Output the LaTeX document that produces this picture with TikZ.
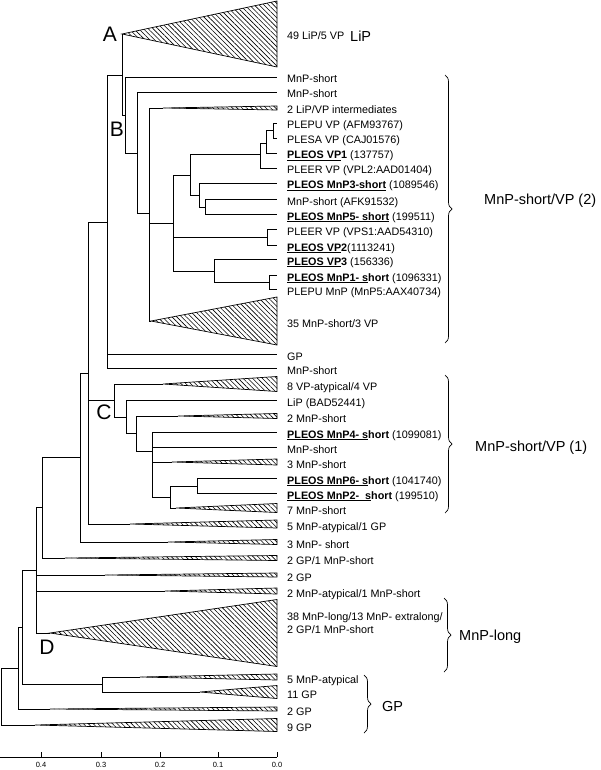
\documentclass[tikz,border=0pt]{standalone}
\usepackage{fontspec}
\setmainfont{Liberation Sans}
\usetikzlibrary{patterns.meta,decorations.pathreplacing}

\tikzset{
  branch/.style={line width=0.9pt},
  clade/.style={line width=0.7pt,pattern={Lines[angle=-45,distance=3.4pt,line width=0.6pt]}},
  lab/.style={anchor=base west,inner sep=0pt,font=\fontsize{10.8}{13}\selectfont},
  grp/.style={anchor=west,inner sep=0pt,font=\fontsize{14.5}{16}\selectfont},
  knot/.style={inner sep=0pt,font=\fontsize{21}{24}\selectfont},
  tick/.style={inner sep=0pt,font=\fontsize{7.5}{9}\selectfont},
  grpbrace/.style={decorate,decoration={brace,amplitude=7pt},line width=0.7pt},
}

% tip of the tree: name, y, text
\newcommand\tipleaf[3]{%
  \coordinate (#1) at (277,#2);
  \node[lab] (#1-lab) at (287,#2+6) {#3};}
% collapsed clade: name, apex x, y, half height, text
\newcommand\tipclade[5]{%
  \coordinate (#1) at (#2,#3);
  \draw[clade] (#1) -- (277,#3-#4) -- (277,#3+#4) -- cycle;
  \node[lab] (#1-lab) at (287,#3+6) {#5};}
\newcommand\pl[2]{\textbf{\underline{#1}#2}}

\begin{document}
\begin{tikzpicture}[x=1pt,y=-1pt]
  \useasboundingbox (0,0) rectangle (600,770);

  % tips and collapsed clades
  \tipclade{lip49}{122}{34}{33}{49 LiP/5 VP}
  \tipleaf{mnpa}{77}{MnP-short}
  \tipleaf{mnpb}{92}{MnP-short}
  \tipclade{livp}{163}{108}{2}{2 LiP/VP intermediates}
  \tipleaf{plepu}{123}{PLEPU VP (AFM93767)}
  \tipleaf{plesa}{138}{PLESA VP (CAJ01576)}
  \tipleaf{vpone}{153}{\pl{PLEOS VP}{1} (137757)}
  \tipleaf{pleera}{168}{PLEER VP (VPL2:AAD01404)}
  \tipleaf{mnpthree}{183}{\pl{PLEOS MnP3-short}{} (1089546)}
  \tipleaf{mnpafk}{199}{MnP-short (AFK91532)}
  \tipleaf{mnpfive}{214}{\pl{PLEOS MnP5- short}{} (199511)}
  \tipleaf{pleerb}{229}{PLEER VP (VPS1:AAD54310)}
  \tipleaf{vptwo}{245}{\pl{PLEOS VP}{2}(1113241)}
  \tipleaf{vpthree}{259}{\pl{PLEOS VP}{3} (156336)}
  \tipleaf{mnpone}{275}{\pl{PLEOS MnP1- s}{hort} (1096331)}
  \tipleaf{plepum}{289}{PLEPU MnP (MnP5:AAX40734)}
  \tipclade{ms35}{151}{321}{24}{35 MnP-short/3 VP}
  \tipleaf{gpa}{354}{GP}
  \tipleaf{mnpc}{368}{MnP-short}
  \tipclade{vpa8}{163}{384}{7.5}{8 VP-atypical/4 VP}
  \tipleaf{lipbad}{400}{LiP (BAD52441)}
  \tipclade{ms2}{178}{416}{2.5}{2 MnP-short}
  \tipleaf{mnpfour}{432}{\pl{PLEOS MnP4- s}{hort} (1099081)}
  \tipleaf{mnpd}{447}{MnP-short}
  \tipclade{ms3}{172}{462}{3}{3 MnP-short}
  \tipleaf{mnpsix}{478}{\pl{PLEOS MnP6- s}{hort} (1041740)}
  \tipleaf{mnptwo}{493}{\pl{PLEOS MnP2-\ \ s}{hort} (199510)}
  \tipclade{ms7}{176}{508}{4.5}{7 MnP-short}
  \tipclade{ma5}{130}{524}{4}{5 MnP-atypical/1 GP}
  \tipclade{msb3}{168}{542}{2.5}{3 MnP- short}
  \tipclade{gpm2}{65}{558}{2.5}{2 GP/1 MnP-short}
  \tipclade{gpb2}{105}{575}{2}{2 GP}
  \tipclade{mam2}{165}{591}{3}{2 MnP-atypical/1 MnP-short}
  \tipclade{long38}{50}{633}{33.5}{}
  \node[lab,align=left] (long38-txt) at (287,633) {38 MnP-long/13 MnP- extralong/\\2 GP/1 MnP-short};
  \tipclade{mab5}{140}{677}{3}{5 MnP-atypical}
  \tipclade{gp11}{200}{692}{6.5}{11 GP}
  \tipclade{gpc2}{50}{709}{2}{2 GP}
  \tipclade{gp9}{35}{725}{6.5}{9 GP}

  % inner nodes
  \coordinate (root) at (1,696);
  \coordinate (n18) at (18,668);
  \coordinate (n22) at (22,627);
  \coordinate (n102) at (102,684);
  \coordinate (n36) at (36,570);
  \coordinate (n42) at (42,507);
  \coordinate (n80) at (80,457);
  \coordinate (n88) at (88,373);
  \coordinate (n107) at (107,222);
  \coordinate (nA) at (122,75);
  \coordinate (nB) at (125,115);
  \coordinate (n137) at (137,153);
  \coordinate (n149) at (149,213);
  \coordinate (n173) at (173,223);
  \coordinate (n190) at (190,175);
  \coordinate (n260) at (260,154);
  \coordinate (n266) at (266,143);
  \coordinate (n273) at (273,130);
  \coordinate (n199) at (199,195);
  \coordinate (n205) at (205,207);
  \coordinate (n267) at (267,237);
  \coordinate (n214) at (214,271);
  \coordinate (n269) at (269,282);
  \coordinate (nC) at (114,400);
  \coordinate (n126) at (126,417);
  \coordinate (n136) at (136,433);
  \coordinate (n152) at (152,451);
  \coordinate (n170) at (170,497);
  \coordinate (n197) at (197,486);

  % branches
  \draw[branch] (root) |- (n18) (root) |- (gp9);
  \draw[branch] (n18) |- (n22) (n18) |- (gpc2);
  \draw[branch] (n22) |- (n36) (n22) |- (n102);
  \draw[branch] (n102) |- (mab5) (n102) |- (gp11);
  \draw[branch] (n36) |- (n42) (n36) |- (gpb2) (n36) |- (mam2) (n36) |- (long38);
  \draw[branch] (n42) |- (n80) (n42) |- (gpm2);
  \draw[branch] (n80) |- (n88) (n80) |- (msb3);
  \draw[branch] (n88) |- (n107) (n88) |- (nC) (n88) |- (ma5);
  \draw[branch] (n107) |- (nA) (n107) |- (gpa) (n107) |- (mnpc);
  \draw[branch] (nA) |- (lip49) (nA) |- (nB);
  \draw[branch] (nB) |- (mnpa) (nB) |- (n137);
  \draw[branch] (n137) |- (mnpb) (n137) |- (n149);
  \draw[branch] (n149) |- (livp) (n149) |- (n173) (n149) |- (ms35);
  \draw[branch] (n173) |- (n190) (n173) |- (n267) (n173) |- (n214);
  \draw[branch] (n190) |- (n260) (n190) |- (n199);
  \draw[branch] (n260) |- (n266) (n260) |- (pleera);
  \draw[branch] (n266) |- (n273) (n266) |- (vpone);
  \draw[branch] (n273) |- (plepu) (n273) |- (plesa);
  \draw[branch] (n199) |- (mnpthree) (n199) |- (n205);
  \draw[branch] (n205) |- (mnpafk) (n205) |- (mnpfive);
  \draw[branch] (n267) |- (pleerb) (n267) |- (vptwo);
  \draw[branch] (n214) |- (vpthree) (n214) |- (n269);
  \draw[branch] (n269) |- (mnpone) (n269) |- (plepum);
  \draw[branch] (nC) |- (vpa8) (nC) |- (n126);
  \draw[branch] (n126) |- (lipbad) (n126) |- (n136);
  \draw[branch] (n136) |- (ms2) (n136) |- (n152);
  \draw[branch] (n152) |- (mnpfour) (n152) |- (mnpd) (n152) |- (ms3) (n152) |- (n170);
  \draw[branch] (n170) |- (n197) (n170) |- (ms7);
  \draw[branch] (n197) |- (mnpsix) (n197) |- (mnptwo);

  % clade letters
  \node[knot] (kA) at (110,34) {A};
  \node[knot] (kB) at (117,129) {B};
  \node[knot] (kC) at (104,412) {C};
  \node[knot] (kD) at (47,647) {D};

  % groups
  \node[grp] (gLiP) at (350,36) {LiP};
  \draw[grpbrace] (445,75) -- (445,343);
  \node[grp] (gVP2) at (484,201) {MnP-short/VP (2)};
  \draw[grpbrace] (445,375) -- (445,513);
  \node[grp] (gVP1) at (475,448) {MnP-short/VP (1)};
  \draw[grpbrace] (444,598) -- (444,672);
  \node[grp] (gLong) at (459,637) {MnP-long};
  \draw[grpbrace] (364,675) -- (364,733);
  \node[grp] (gGP) at (382,706) {GP};

  % scale
  \draw[branch] (0,757) -- (277,757);
  \foreach \v/\x in {0.4/41,0.3/101,0.2/160,0.1/218,0.0/277} {
    \draw[branch] (\x,757) -- (\x,752);
    \node[tick] at (\x,765) {\v};
  }
\end{tikzpicture}
\end{document}
